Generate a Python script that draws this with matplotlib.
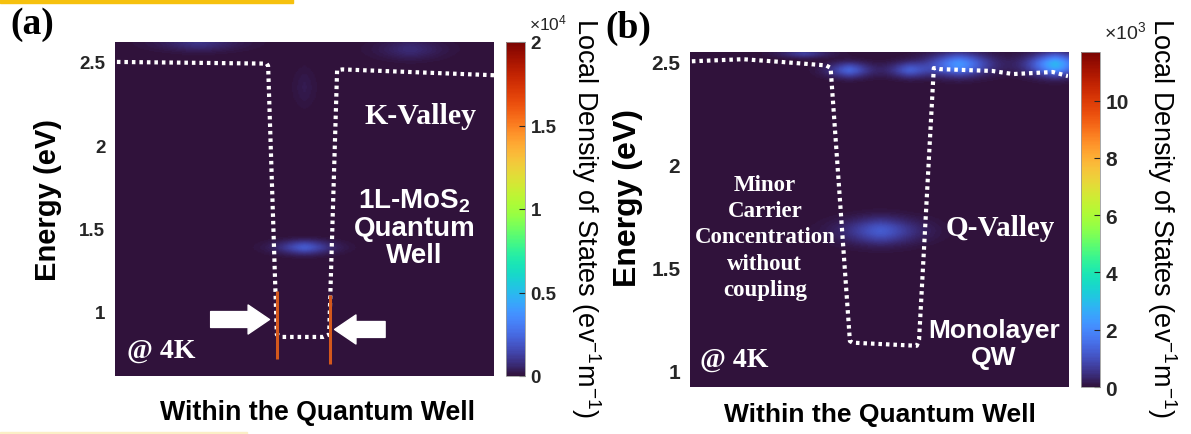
import numpy as np
import matplotlib
matplotlib.use("Agg")
import matplotlib.pyplot as plt
from matplotlib.patches import Rectangle

SANS = "Liberation Sans"
SERIF = "Liberation Serif"
TICK_COLOR = "#262626"
plt.rcParams["mathtext.fontset"] = "custom"
plt.rcParams["mathtext.rm"] = SANS
plt.rcParams["mathtext.it"] = SANS
plt.rcParams["mathtext.bf"] = SANS + ":bold"

# ---------------- data: panel (a) ----------------
a_ylim = (0.61, 2.62)
a_yticks = [1, 1.5, 2, 2.5]
a_cbar_max = 2e4
a_cbar_ticks = [0, 5000, 10000, 15000, 20000]
a_cbar_labels = ["0", "0.5", "1", "1.5", "2"]
# bright spots: position along well, energy, LDOS value, half widths
a_spot_x = [0.50, 0.22, 0.78, 0.50]
a_spot_e = [1.384, 2.62, 2.58, 2.35]
a_spot_val = [2000, 900, 700, 250]
a_spot_wx = [0.065, 0.10, 0.08, 0.03]
a_spot_we = [0.04, 0.05, 0.06, 0.12]
# quantum well outline
a_well_x = [0.005, 0.40, 0.404, 0.427, 0.44, 0.55, 0.565, 0.586, 0.60, 1.0]
a_well_e = [2.50, 2.49, 2.476, 0.86, 0.845, 0.845, 0.86, 2.45, 2.455, 2.42]
# orange markers at the well walls
a_wall_x = [0.427, 0.567]
a_wall_lo = [0.71, 0.68]
a_wall_hi = [1.12, 1.10]

# ---------------- data: panel (b) ----------------
b_ylim = (0.92, 2.545)
b_yticks = [1, 1.5, 2, 2.5]
b_cbar_max = 11700
b_cbar_ticks = [0, 2000, 4000, 6000, 8000, 10000]
b_cbar_labels = ["0", "2", "4", "6", "8", "10"]
b_spot_x = [0.42, 0.58, 0.71, 0.965, 0.30, 0.503]
b_spot_e = [2.46, 2.46, 2.487, 2.487, 2.54, 1.677]
b_spot_val = [1300, 1100, 2200, 2800, 700, 1200]
b_spot_wx = [0.05, 0.05, 0.07, 0.06, 0.06, 0.09]
b_spot_we = [0.035, 0.035, 0.05, 0.05, 0.02, 0.06]
b_well_x = [0.005, 0.14, 0.24, 0.36, 0.372, 0.423, 0.43, 0.60, 0.606, 0.645,
            0.66, 0.80, 0.855, 0.96, 1.0]
b_well_e = [2.50, 2.51, 2.497, 2.48, 2.468, 1.143, 1.135, 1.12, 1.15, 2.467,
            2.462, 2.453, 2.438, 2.448, 2.428]

W, H = 1191, 435
fig = plt.figure(figsize=(W / 100, H / 100), dpi=100)


def box(x0, y0, x1, y1):
    # pixel box (top-left origin) -> figure fraction rect
    return [x0 / W, 1 - y1 / H, (x1 - x0) / W, (y1 - y0) / H]


def ldos_map(ylim, sx, se, sv, swx, swe):
    xs = np.linspace(0, 1, 300)
    es = np.linspace(ylim[0], ylim[1], 300)
    X, E = np.meshgrid(xs, es)
    Z = np.zeros_like(X)
    for x0, e0, v, wx, we in zip(sx, se, sv, swx, swe):
        Z += v * np.exp(-(np.abs(X - x0) / wx) ** 1.6 - ((E - e0) / we) ** 2)
    return Z


def panel(ax_box, cax_box, ylim, yticks, tick_fs, vmax, cticks, clabels,
          power, spots, well_x, well_e):
    ax = fig.add_axes(box(*ax_box))
    Z = ldos_map(ylim, *spots)
    im = ax.imshow(Z, extent=[0, 1, ylim[0], ylim[1]], origin="lower",
                   aspect="auto", cmap="turbo", vmin=0, vmax=vmax)
    ax.plot(well_x, well_e, color="white", lw=3.0, ls=(0, (0.85, 0.95)),
            dash_capstyle="butt")
    ax.set_xlim(0, 1)
    ax.set_ylim(*ylim)
    ax.set_xticks([])
    ax.set_yticks(yticks)
    ax.set_yticklabels([f"{t:g}" for t in yticks], fontsize=tick_fs,
                       fontweight="bold", color=TICK_COLOR, family=SANS)
    ax.tick_params(axis="y", length=0, pad=7)
    for s in ax.spines.values():
        s.set_visible(False)

    cax = fig.add_axes(box(*cax_box))
    cb = fig.colorbar(im, cax=cax, ticks=cticks)
    cb.ax.set_yticklabels(clabels, fontsize=tick_fs, fontweight="bold",
                          color=TICK_COLOR, family=SANS)
    cb.ax.tick_params(direction="in", length=4, width=0.8, color=TICK_COLOR,
                      pad=4)
    cb.outline.set_edgecolor("#9a9a9a")
    cb.outline.set_linewidth(0.6)
    cax.text(1.2, 1.03, r"$\times$10$^{%d}$" % power, transform=cax.transAxes,
             ha="left", va="bottom", fontsize=tick_fs - 1, color=TICK_COLOR,
             family=SANS)
    return ax


# ---------------- panel (a) ----------------
ax1 = panel((115, 43, 494, 377), (506, 43, 525, 377), a_ylim, a_yticks, 13.5,
            a_cbar_max, a_cbar_ticks, a_cbar_labels, 4,
            (a_spot_x, a_spot_e, a_spot_val, a_spot_wx, a_spot_we),
            a_well_x, a_well_e)
for x, lo, hi in zip(a_wall_x, a_wall_lo, a_wall_hi):
    ax1.plot([x, x], [lo, hi], color="#d4581c", lw=2.2, solid_capstyle="butt")
arrow = dict(arrowstyle="simple,head_length=0.7,head_width=0.95,tail_width=0.52",
             fc="white", ec="white", mutation_scale=22)
ax1.annotate("", xy=(0.415, 0.95), xytext=(0.245, 0.95), arrowprops=arrow)
ax1.annotate("", xy=(0.572, 0.89), xytext=(0.72, 0.89), arrowprops=arrow)
ax1.text(0.807, 2.176, "K-Valley", color="white", fontsize=21.5,
         fontweight="bold", family=SERIF, ha="center", va="center")
ax1.text(0.79, 1.504, "1L-MoS$_\\mathbf{2}$\nQuantum\nWell", color="white",
         fontsize=20, fontweight="bold", family=SANS, ha="center",
         va="center", linespacing=1.05)
ax1.text(0.032, 0.766, "@ 4K", color="white", fontsize=20, fontweight="bold",
         family=SERIF, ha="left", va="center")

# ---------------- panel (b) ----------------
ax2 = panel((690, 53, 1068, 388), (1081, 53, 1100, 388), b_ylim, b_yticks, 15,
            b_cbar_max, b_cbar_ticks, b_cbar_labels, 3,
            (b_spot_x, b_spot_e, b_spot_val, b_spot_wx, b_spot_we),
            b_well_x, b_well_e)
ax2.text(0.198, 1.648, "Minor\nCarrier\nConcentration\nwithout\ncoupling",
         color="white", fontsize=16.5, fontweight="bold", family=SERIF,
         ha="center", va="center", linespacing=1.33)
ax2.text(0.82, 1.696, "Q-Valley", color="white", fontsize=21,
         fontweight="bold", family=SERIF, ha="center", va="center")
ax2.text(0.804, 1.129, "Monolayer\nQW", color="white", fontsize=19,
         fontweight="bold", family=SANS, ha="center", va="center",
         linespacing=1.15)
ax2.text(0.026, 1.056, "@ 4K", color="white", fontsize=20, fontweight="bold",
         family=SERIF, ha="left", va="center")

# ---------------- figure-level labels ----------------
cb_label = "Local Density of States (ev$^{-1}$m$^{-1}$)"
fig.text(32 / W, 1 - 25 / H, "(a)", fontsize=27, fontweight="bold",
         family=SERIF, ha="center", va="center")
fig.text(628 / W, 1 - 28 / H, "(b)", fontsize=27, fontweight="bold",
         family=SERIF, ha="center", va="center")
fig.text(48 / W, 1 - 200 / H, "Energy (eV)", rotation=90, fontsize=21,
         fontweight="bold", family=SANS, ha="center", va="center")
fig.text(628 / W, 1 - 198 / H, "Energy (eV)", rotation=90, fontsize=23,
         fontweight="bold", family=SANS, ha="center", va="center")
fig.text(317 / W, 1 - 413 / H, "Within the Quantum Well", fontsize=19.3,
         fontweight="bold", family=SANS, ha="center", va="center")
fig.text(880 / W, 1 - 415 / H, "Within the Quantum Well", fontsize=19,
         fontweight="bold", family=SANS, ha="center", va="center")
fig.text(586 / W, 1 - 218 / H, cb_label, rotation=-90, fontsize=19.5,
         family=SANS, ha="center", va="center")
fig.text(1162 / W, 1 - 218 / H, cb_label, rotation=-90, fontsize=19.5,
         family=SANS, ha="center", va="center")

# decorative yellow rules
fig.patches.append(Rectangle((0, 1 - 4 / H), 293 / W, 4 / H, color="#f6c10e",
                             transform=fig.transFigure, figure=fig))
fig.patches.append(Rectangle((0, 0.5 / H), 247 / W, 2 / H, color="#fbefc6",
                             transform=fig.transFigure, figure=fig))

fig.savefig("out.png", dpi=100)
